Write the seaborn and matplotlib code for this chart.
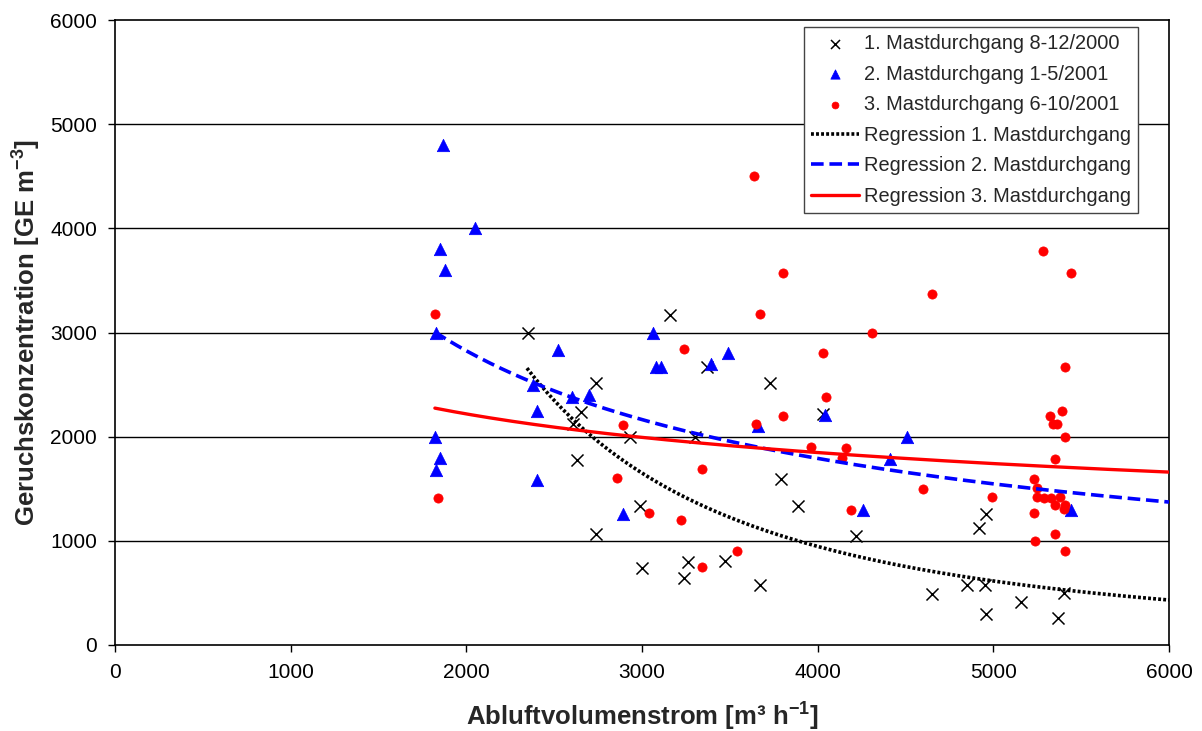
import numpy as np
import pandas as pd
import matplotlib
matplotlib.use("Agg")
import matplotlib.pyplot as plt
import seaborn as sns

sns.set_style("white")
plt.rcParams['font.family'] = ['Liberation Sans', 'DejaVu Sans']

# --- Data ---
x1 = [2350, 3160, 2740, 3730, 3370, 2650, 2610, 2930, 3300, 2630, 3790, 3890, 2990, 2740,
      3000, 3260, 3240, 3470, 3670, 4030, 4220, 4650, 4850, 4950, 4960, 4920, 4960, 5160,
      5400, 5370]
y1 = [3000, 3170, 2520, 2520, 2670, 2240, 2120, 2000, 2000, 1780, 1590, 1330, 1330, 1070,
      740, 800, 640, 810, 580, 2220, 1050, 490, 575, 575, 1260, 1120, 300, 410,
      500, 260]

x2 = [1870, 2050, 1850, 1880, 1830, 3060, 2520, 3080, 3110, 3390, 3490, 2380, 2600, 2700,
      2400, 1820, 1850, 1830, 2400, 2890, 3660, 4040, 4510, 4410, 4260, 5440]
y2 = [4800, 4000, 3800, 3600, 3000, 3000, 2830, 2670, 2670, 2700, 2800, 2500, 2380, 2400,
      2250, 2000, 1800, 1680, 1580, 1260, 2100, 2210, 2000, 1790, 1300, 1300]

x3 = [3640, 3800, 1820, 3670, 3240, 3650, 3800, 2890, 3340, 2860, 1840, 3040, 3220, 3540,
      3340, 5280, 5440, 4650, 4310, 4030, 4050, 5410, 5390, 5320, 5340, 5360, 5410, 5350,
      3960, 4160, 4140, 4600, 4990, 4190, 5230, 5250, 5250, 5290, 5330, 5380, 5350, 5400,
      5410, 5230, 5240, 5350, 5410]
y3 = [4500, 3570, 3180, 3180, 2840, 2120, 2200, 2110, 1690, 1600, 1410, 1270, 1200, 900,
      750, 3780, 3570, 3370, 3000, 2800, 2380, 2670, 2250, 2200, 2120, 2120, 2000, 1790,
      1900, 1890, 1800, 1500, 1420, 1300, 1590, 1510, 1420, 1410, 1410, 1420, 1340, 1310,
      1340, 1270, 1000, 1070, 900]

labels = ["1. Mastdurchgang 8-12/2000", "2. Mastdurchgang 1-5/2001", "3. Mastdurchgang 6-10/2001"]
reg_labels = ["Regression 1. Mastdurchgang", "Regression 2. Mastdurchgang", "Regression 3. Mastdurchgang"]

# power-law trend lines (y = y0 * (x / x0) ** b), parameters
reg_x0 = [2345, 1821, 1821]
reg_y0 = [2658, 3004, 2274]
reg_b = [-1.934, -0.657, -0.264]
x_end = 6000

fig = plt.figure(figsize=(12.02, 7.31), dpi=100)
ax = fig.add_axes([115 / 1202, 1 - 645 / 731, (1169 - 115) / 1202, (645 - 20) / 731])

for yv in [1000, 2000, 3000, 4000, 5000]:
    ax.axhline(yv, color='black', lw=1.0, zorder=0)

df1 = pd.DataFrame({'x': x1, 'y': y1})
df2 = pd.DataFrame({'x': x2, 'y': y2})
df3 = pd.DataFrame({'x': x3, 'y': y3})

sns.scatterplot(data=df1, x='x', y='y', ax=ax, marker='x', color='black', s=75,
                linewidth=1.1, label=labels[0], zorder=3)
sns.scatterplot(data=df2, x='x', y='y', ax=ax, marker='^', color='#0000FF', s=80,
                edgecolor='#0000FF', linewidth=0.5, label=labels[1], zorder=3)
sns.scatterplot(data=df3, x='x', y='y', ax=ax, marker='o', color='#FF0000', s=44,
                edgecolor='#FF0000', linewidth=0.5, label=labels[2], zorder=3)

styles = [dict(color='black', ls=(0, (0.8, 0.6)), lw=2.6),
          dict(color='#0000FF', ls=(0, (3.5, 1.6)), lw=2.6),
          dict(color='#FF0000', ls='-', lw=2.4)]
for x0, y0, b, lab, st in zip(reg_x0, reg_y0, reg_b, reg_labels, styles):
    xx = np.linspace(x0, x_end, 200)
    dfr = pd.DataFrame({'x': xx, 'y': y0 * (xx / x0) ** b})
    sns.lineplot(data=dfr, x='x', y='y', ax=ax, color=st['color'], lw=st['lw'],
                 label=lab, zorder=4, linestyle=st['ls'])

ax.set_xlim(0, 6000)
ax.set_ylim(0, 6000)
ax.set_xticks(range(0, 6001, 1000))
ax.set_yticks(range(0, 6001, 1000))
ax.tick_params(axis='both', labelsize=15, colors='black', direction='out',
               length=5, width=1, bottom=True, left=True, pad=8)
for sp in ax.spines.values():
    sp.set_color('black')
    sp.set_linewidth(1.2)

ax.set_xlabel("Abluftvolumenstrom [m³ h$^{\\mathregular{-1}}$]", fontsize=18.5, fontweight='bold',
              labelpad=12)
ax.set_ylabel("Geruchskonzentration [GE m$^{\\mathregular{-3}}$]", fontsize=18.5, fontweight='bold',
              labelpad=6)

leg = ax.legend(loc='upper right', bbox_to_anchor=(1138 / 1202, 1 - 27 / 731),
                bbox_transform=fig.transFigure, fontsize=14.4, frameon=True, fancybox=False,
                framealpha=1, edgecolor='#444444', handlelength=2.4, labelspacing=0.58,
                borderpad=0.35, handletextpad=0.25, borderaxespad=0, markerscale=0.75)
leg.get_frame().set_linewidth(1.0)

fig.savefig("out.png", dpi=100)
